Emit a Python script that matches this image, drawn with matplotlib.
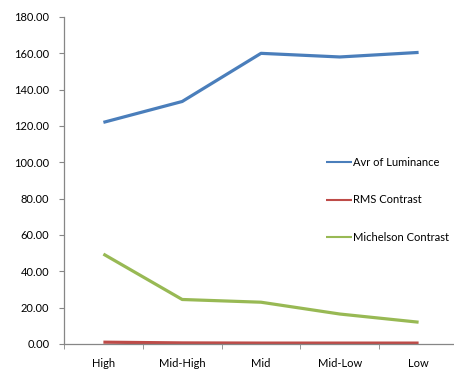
import matplotlib
matplotlib.use("Agg")
import matplotlib.pyplot as plt
from matplotlib.ticker import FixedLocator, FuncFormatter

categories = ["High", "Mid-High", "Mid", "Mid-Low", "Low"]
luminance = [122.0, 133.5, 160.0, 158.0, 160.5]
rms = [1.0, 0.6, 0.5, 0.5, 0.5]
michelson = [49.5, 24.5, 23.0, 16.5, 12.0]

plt.rcParams['font.family'] = ['Lato', 'DejaVu Sans']
W, H = 454, 369
fig = plt.figure(figsize=(W/100, H/100), dpi=100)
ax = fig.add_axes([64/W, 1-344/H, (458-64)/W, (344-17)/H])
x = list(range(len(categories)))
ax.plot(x, luminance, color="#4A7EBB", lw=2.3, label="Avr of Luminance", solid_capstyle='butt')
ax.plot(x, rms, color="#BE4B48", lw=2.3, label="RMS Contrast", solid_capstyle='butt')
ax.plot(x, michelson, color="#98B954", lw=2.3, label="Michelson Contrast", solid_capstyle='butt')

ax.set_xlim(-0.5, 4.5)
ax.set_ylim(0, 180)
ax.set_yticks(range(0, 181, 20))
ax.yaxis.set_major_formatter(FuncFormatter(lambda v, p: f"{v:.2f}"))
ax.set_xticks(x)
ax.set_xticklabels(categories)
ax.xaxis.set_minor_locator(FixedLocator([i - 0.5 for i in range(6)]))
ax.tick_params(axis='x', which='major', length=0, pad=10, labelsize=8, colors='black')
ax.tick_params(axis='x', which='minor', length=3.5, color='#868686', direction='out')
ax.tick_params(axis='y', length=3.5, color='#868686', pad=7, labelsize=8, direction='out')
for s in ['top', 'right']:
    ax.spines[s].set_visible(False)
for s in ['left', 'bottom']:
    ax.spines[s].set_color('#868686')
    ax.spines[s].set_linewidth(0.9)

leg = ax.legend(loc='center left', bbox_to_anchor=(326/W, 1-200/H), bbox_transform=fig.transFigure,
                frameon=False, fontsize=8, labelspacing=2.4, handlelength=2.3,
                handletextpad=0.1, borderpad=0, borderaxespad=0)
for l in leg.get_lines():
    l.set_linewidth(1.5)

fig.savefig("out.png", dpi=100)
